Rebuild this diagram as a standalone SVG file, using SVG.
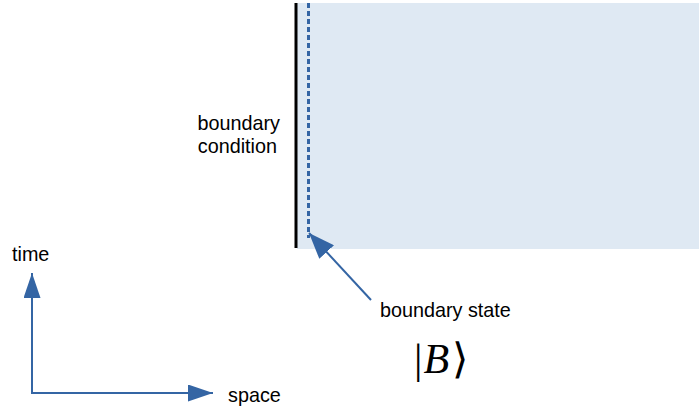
<svg xmlns="http://www.w3.org/2000/svg" width="699" height="410" viewBox="0 0 699 410">
<defs>
<style>
.t{font-family:"Liberation Sans",Arial,sans-serif;font-size:19.8px;fill:#000}
.c{stroke:#3465a4;stroke-width:2;fill:none}
</style>
<marker id="ahb" viewBox="0 0 10 10" refX="10" refY="5" markerWidth="25" markerHeight="17" markerUnits="userSpaceOnUse" orient="auto" preserveAspectRatio="none">
<path d="M0,0 L10,5 L0,10 z" fill="#3465a4"/>
</marker>
<marker id="ahd" viewBox="0 0 10 10" refX="10" refY="5" markerWidth="26" markerHeight="20" markerUnits="userSpaceOnUse" orient="auto" preserveAspectRatio="none">
<path d="M0,0 L10,5 L0,10 z" fill="#3465a4"/>
</marker>
</defs>
<g id="region">
<rect x="297" y="3" width="402" height="246" fill="#dfe9f3"/>
<line x1="296" y1="3" x2="296" y2="248" stroke="#000" stroke-width="3"/>
<line x1="308.5" y1="3" x2="308.5" y2="238" stroke="#3465a4" stroke-width="3" stroke-dasharray="5,3"/>
</g>
<g id="labels">
<text class="t" x="280" y="130" text-anchor="end">boundary</text>
<text class="t" x="277" y="153" text-anchor="end">condition</text>
<text class="t" x="380" y="317">boundary state</text>
<text class="t" x="12" y="261">time</text>
<text class="t" x="228" y="402">space</text>
<text x="414" y="373" font-family="'Liberation Serif',serif" font-size="42">|<tspan dx="1" font-style="italic">B</tspan><tspan dx="3">⟩</tspan></text>
</g>
<g id="connectors">
<line class="c" x1="32" y1="394" x2="32" y2="273" marker-end="url(#ahb)"/>
<line class="c" x1="31" y1="393" x2="213" y2="393" marker-end="url(#ahb)"/>
<line class="c" x1="371" y1="300" x2="309" y2="233" marker-end="url(#ahd)"/>
</g>
</svg>
